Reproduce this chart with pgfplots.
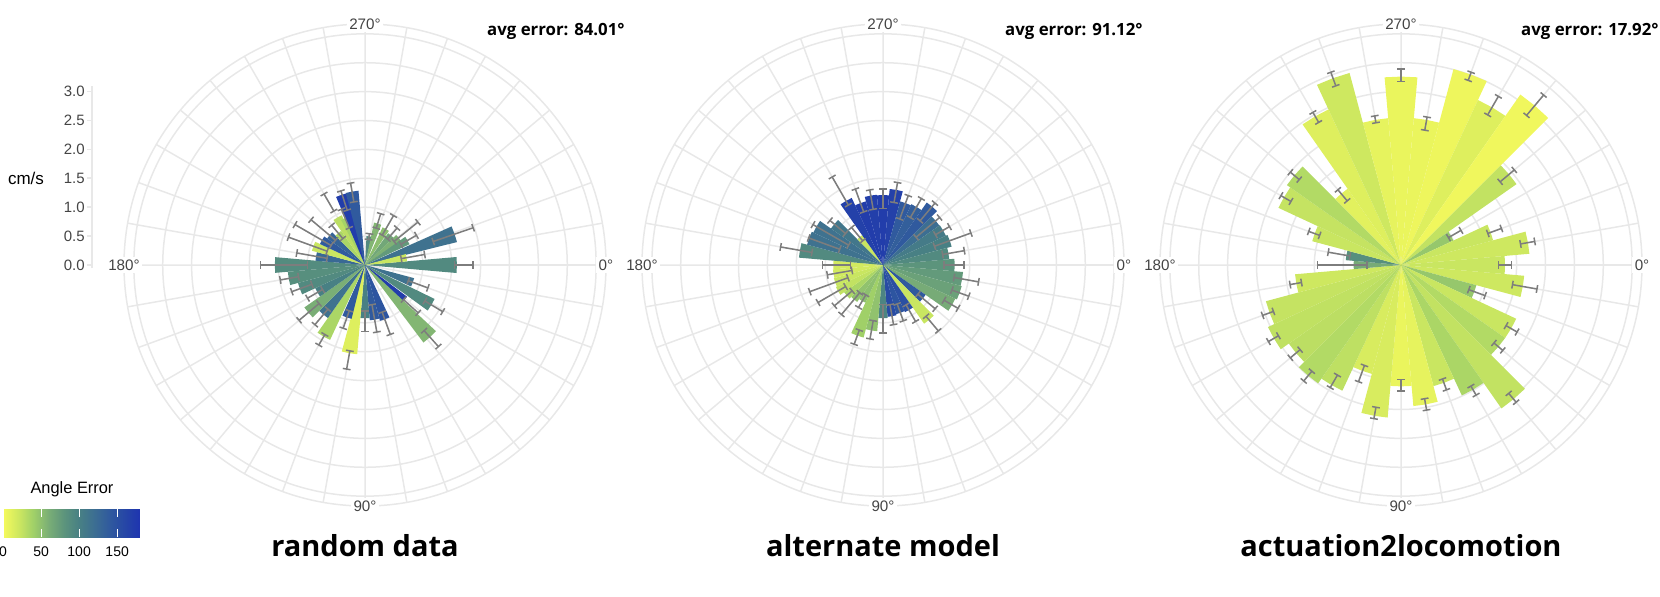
\documentclass[border=0pt]{standalone}
\usepackage{fontspec}
\setmainfont{Liberation Sans}
\newfontfamily\osans{Open Sans}
\usepackage{pgfplots}
\usepackage{pgfplotstable}
\pgfplotsset{compat=1.18}
\usepgfplotslibrary{polar}

\definecolor{gridgray}{RGB}{232,232,232}
\definecolor{ticktext}{RGB}{68,68,68}
\definecolor{errgray}{RGB}{125,125,125}

\tikzset{anglbl/.style={fill=white, inner sep=1.2pt, text=ticktext,
    font=\fontsize{7.6}{8}\selectfont}}

\pgfplotsset{
  colormap={angerr}{
    rgb255(0pt)=(246,250,92);
    rgb255(20pt)=(206,232,96);
    rgb255(40pt)=(160,208,104);
    rgb255(60pt)=(122,174,118);
    rgb255(80pt)=(92,148,124);
    rgb255(100pt)=(72,128,132);
    rgb255(120pt)=(60,110,146);
    rgb255(140pt)=(48,90,158);
    rgb255(160pt)=(38,70,166);
    rgb255(180pt)=(30,52,176)
  },
  rose/.style={
    scale only axis, width=241pt, height=241pt,
    anchor=center, clip=false,
    xmin=0, xmax=360, ymin=0, ymax=4.17,
    xtick={0,10,...,350}, xticklabel={\mbox{}},
    ytick={0.5,1,...,4}, yticklabel={\mbox{}},
    grid=major,
    major grid style={draw=gridgray, line width=0.75pt},
    axis line style={draw=gridgray, line width=0.75pt},
    major tick length=0pt,
    colormap name=angerr,
  },
}

% a = direction (deg, clockwise from right), r = speed (cm/s),
% lo/hi = error bar ends, c = angle error (deg)
\pgfplotstableread{
a   r     lo    hi    c
0   1.59  1.55  1.87  90
20  0.88  0.80  1.16  115
31  1.34  1.21  1.57  90
42  0.91  0.90  1.24  170
48  1.68  1.53  1.90  55
70  1.00  0.87  1.28  145
80  0.96  0.70  1.18  140
90  0.92  0.80  1.15  100
100 1.55  1.51  1.83  12
109 0.96  0.84  1.16  140
120 1.43  1.39  1.60  35
130 1.12  1.00  1.35  115
140 1.28  1.04  1.49  60
150 0.95  0.85  1.15  100
160 1.20  0.98  1.35  90
170 1.34  1.17  1.49  85
180 1.56  1.00  1.81  88
190 0.86  0.67  1.20  125
200 0.95  0.70  1.41  22
210 0.86  0.68  1.40  140
220 0.80  0.67  1.22  130
230 0.72  0.60  0.90  35
240 0.95  1.08  1.42  28
247 0.88  0.70  1.05  38
252 1.28  1.00  1.35  170
260 1.29  1.11  1.44  140
278 0.50  0.45  0.55  90
287 0.75  0.67  0.93  55
300 0.72  0.60  0.99  50
311 0.68  0.60  0.85  65
321 0.75  0.65  1.18  58
330 0.85  0.72  1.03  75
341 1.64  1.25  1.98  115
350 0.73  0.64  1.05  22
}\randtab

\pgfplotstableread{
a   r     lo    hi    c
0   1.24  1.06  1.40  80
10  1.39  1.25  1.68  75
20  1.41  1.27  1.58  70
30  1.38  1.22  1.50  62
40  0.90  0.79  1.18  140
50  1.24  1.16  1.49  22
60  0.90  0.80  1.13  150
70  0.88  0.72  1.03  145
80  0.90  0.70  1.05  155
90  0.92  0.69  1.18  95
100 1.15  0.98  1.30  48
110 1.30  1.20  1.46  40
120 0.72  0.60  0.85  50
130 0.78  0.63  1.12  48
140 0.82  0.70  1.10  35
150 0.90  0.75  1.30  25
160 0.88  0.65  1.35  22
170 0.87  0.55  0.98  18
180 0.86  0.57  1.05  18
190 1.46  1.25  1.80  90
200 1.36  0.80  1.37  115
210 1.33  0.69  1.40  115
220 1.10  0.85  1.20  110
230 0.63  0.55  0.85  22
240 1.28  1.20  1.76  165
250 1.14  0.98  1.40  170
260 1.22  0.98  1.32  168
270 1.21  0.98  1.32  170
280 1.32  1.10  1.45  165
290 1.14  0.85  1.28  140
300 1.16  0.95  1.33  135
310 1.32  1.00  1.40  140
320 1.19  0.75  1.28  120
330 1.20  1.05  1.33  105
340 1.23  0.95  1.62  100
350 1.15  1.05  1.43  90
}\alttab

\pgfplotstableread{
a   r     lo    hi    c
0   1.80  1.69  1.91  22
10  2.14  1.96  2.39  20
20  1.35  1.25  1.55  45
30  2.20  2.10  2.32  22
40  2.20  2.10  2.30  32
50  3.03  2.90  3.10  25
60  2.49  2.42  2.60  35
70  2.17  2.10  2.30  22
80  2.45  2.35  2.55  8
90  2.10  1.98  2.18  6
100 2.65  2.50  2.70  15
110 1.95  1.85  2.15  15
120 2.40  2.20  2.45  27
130 2.50  2.40  2.62  32
140 2.37  2.28  2.50  28
150 2.54  2.45  2.65  26
160 2.42  2.35  2.55  24
170 1.84  1.75  1.95  20
180 0.82  0.59  1.45  62
190 0.96  0.90  1.28  85
200 1.59  1.50  1.70  22
210 2.34  2.20  2.40  24
220 2.41  2.30  2.50  32
230 1.61  1.45  1.70  10
240 2.97  2.85  3.05  12
250 3.44  3.30  3.55  20
260 2.55  2.50  2.62  8
270 3.26  3.18  3.39  6
280 2.55  2.37  2.60  6
290 3.51  3.40  3.55  4
300 3.15  3.00  3.37  12
310 3.60  3.38  3.84  3
320 2.44  2.24  2.56  25
330 1.00  0.95  1.20  45
340 1.65  1.60  1.85  22
350 2.23  2.10  2.35  20
}\acttab

% #1 table, #2 prefix for the colour names
\newcommand\rosebars[2]{%
  \pgfplotstablegetrowsof{#1}%
  \pgfmathtruncatemacro\nlast{\pgfplotsretval-1}%
  \foreach \k in {0,...,\nlast}{%
    \pgfplotstablegetelem{\k}{a}\of{#1}\pgfmathsetmacro\ang{360-\pgfplotsretval}%
    \pgfplotstablegetelem{\k}{r}\of{#1}\let\rad\pgfplotsretval
    \pgfplotstablegetelem{\k}{c}\of{#1}\pgfmathsetmacro\cv{\pgfplotsretval*5.5555}%
    \pgfplotscolormapdefinemappedcolor{\cv}%
    \xglobal\colorlet{bar#2\k}{mapped color}%
    \pgfmathsetmacro\angl{\ang-5}\pgfmathsetmacro\angr{\ang+5}%
    \edef\tmp{\noexpand\addplot[draw=none, fill=bar#2\k]
      coordinates {(0,0) (\angl,\rad) (\ang,\rad) (\angr,\rad) (0,0)};}%
    \tmp
  }%
}
\newcommand\roseerr[1]{%
  \pgfplotstablegetrowsof{#1}%
  \pgfmathtruncatemacro\nlast{\pgfplotsretval-1}%
  \foreach \k in {0,...,\nlast}{%
    \pgfplotstablegetelem{\k}{a}\of{#1}\pgfmathsetmacro\ang{360-\pgfplotsretval}%
    \pgfplotstablegetelem{\k}{lo}\of{#1}\let\elo\pgfplotsretval
    \pgfplotstablegetelem{\k}{hi}\of{#1}\let\ehi\pgfplotsretval
    \pgfmathsetmacro\loa{\ang-3.9/\elo}\pgfmathsetmacro\lob{\ang+3.9/\elo}%
    \pgfmathsetmacro\hia{\ang-3.9/\ehi}\pgfmathsetmacro\hib{\ang+3.9/\ehi}%
    \edef\tmp{%
      \noexpand\addplot[errgray, line width=0.75pt] coordinates {(\ang,\elo) (\ang,\ehi)};
      \noexpand\addplot[errgray, line width=0.75pt] coordinates {(\loa,\elo) (\lob,\elo)};
      \noexpand\addplot[errgray, line width=0.75pt] coordinates {(\hia,\ehi) (\hib,\ehi)};}%
    \tmp
  }%
}
\newcommand\anglelabels{%
  \node[anglbl] at (axis cs:0,4.17) {0°};
  \node[anglbl] at (axis cs:90,4.17) {270°};
  \node[anglbl] at (axis cs:180,4.17) {180°};
  \node[anglbl] at (axis cs:270,4.17) {90°};
}

\begin{document}
\begin{tikzpicture}
\path[use as bounding box] (0,0) rectangle (830pt,298pt);

\begin{polaraxis}[rose, at={(182.5pt,165.5pt)}]
  \rosebars{\randtab}{R}
  \roseerr{\randtab}
  \anglelabels
\end{polaraxis}

\begin{polaraxis}[rose, at={(441.5pt,165.5pt)}]
  \rosebars{\alttab}{A}
  \roseerr{\alttab}
  \anglelabels
\end{polaraxis}

\begin{polaraxis}[rose, at={(700.5pt,165.5pt)}]
  \rosebars{\acttab}{L}
  \roseerr{\acttab}
  \anglelabels
\end{polaraxis}

% radial speed axis of the first rose
\begin{axis}[
  at={(46pt,165.5pt)}, anchor=origin,
  x=1pt, y=28.92pt, xmin=0, xmax=1, ymin=-0.06, ymax=3.1,
  axis x line=none, axis y line*=left,
  ytick={0,0.5,...,3}, yticklabels={0.0,0.5,1.0,1.5,2.0,2.5,3.0},
  y axis line style={draw=gridgray, line width=0.75pt},
  ytick style={draw=gridgray, line width=0.75pt},
  tick align=outside, major tick length=2.5pt,
  yticklabel style={font=\fontsize{7.5}{8}\selectfont, text=ticktext, inner sep=1pt},
]
\addplot[draw=none] coordinates {(0,0)};
\end{axis}
\node[font=\fontsize{8.5}{9}\selectfont] at (13pt,209pt) {cm/s};

\pgfplotscolorbardrawstandalone[
  colormap name=angerr, colorbar horizontal,
  point meta min=0, point meta max=180,
  colorbar style={
    at={(1.5pt,38pt)}, anchor=south west,
    width=68.5pt, height=14pt, scale only axis,
    xtick={0,50,100,150}, xticklabels={0,50,100,150},
    xticklabel style={font=\fontsize{7}{8}\selectfont, text=black, yshift=-1.5pt},
    xtick style={draw=white, line width=0.5pt},
    major tick length=4pt, tick align=inside,
    axis line style={draw=none},
  }]
\node[font=\fontsize{8.2}{9}\selectfont] at (36pt,53.5pt) {Angle Error};

\node[anchor=base, font=\osans\bfseries\fontsize{14.5}{16}\selectfont] at (182.5pt,20pt) {random data};
\node[anchor=base, font=\osans\bfseries\fontsize{14.5}{16}\selectfont] at (441.5pt,20pt) {alternate model};
\node[anchor=base, font=\osans\bfseries\fontsize{14.5}{16}\selectfont] at (700.5pt,20pt) {actuation2locomotion};

\node[anchor=base east, inner sep=0pt, font=\osans\bfseries\fontsize{8.4}{9}\selectfont] at (312.5pt,280pt) {avg error: 84.01°};
\node[anchor=base east, inner sep=0pt, font=\osans\bfseries\fontsize{8.4}{9}\selectfont] at (571.5pt,280pt) {avg error: 91.12°};
\node[anchor=base east, inner sep=0pt, font=\osans\bfseries\fontsize{8.4}{9}\selectfont] at (829.5pt,280pt) {avg error: 17.92°};
\end{tikzpicture}
\end{document}
